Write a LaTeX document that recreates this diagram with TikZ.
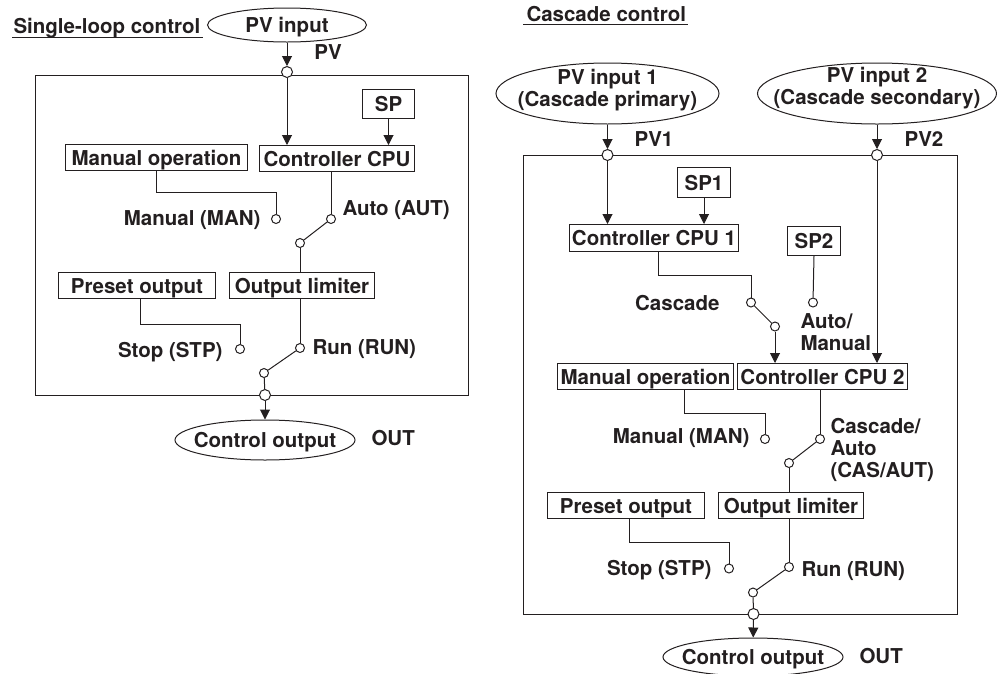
\documentclass[tikz,border=0pt]{standalone}
\usepackage{fontspec}
\usepackage{xcolor}
\usepackage{tikz}
\usetikzlibrary{arrows.meta,shapes.geometric}
\setmainfont{TeX Gyre Heros}
\definecolor{ink}{HTML}{231F20}
\tikzset{
  lbl/.style={inner sep=0pt, text height=15pt, text depth=0pt},
  lblmulti/.style={inner sep=0pt, align=left},
  framebox/.style={draw, inner sep=0pt, text height=15pt, text depth=0pt, anchor=north west},
  oval/.style={draw, ellipse, inner sep=0pt},
  term/.style={draw, circle, fill=white, inner sep=0pt, minimum size=9pt},
  joint/.style={draw, circle, fill=white, inner sep=0pt, minimum size=11pt}
}

\begin{document}
\begin{tikzpicture}[x=1pt, y=-1pt, color=ink, line width=1pt,
    font=\fontsize{20.5}{22}\selectfont\bfseries, >={Triangle[length=10pt,width=10pt]}]
          \useasboundingbox (0,0) rectangle (997,673);

          \node[lbl, anchor=west] (singletitle) at (13,26) {Single-loop control};
          \coordinate (singleulA) at (12,37);
          \coordinate (singleulB) at (203,37);
          \draw (singleulA) -- (singleulB);
          \draw (35,75) rectangle (468,395);

          \node[oval, minimum width=159pt, minimum height=34pt] (pvin) at (287,25) {};
          \node[lbl] (pvintext) at (287,25) {PV input};
          \node[lbl] (pvlabel) at (328,52) {PV};
          \node[joint] (pvjoin) at (287,72) {};
          \node[framebox, minimum width=52pt, minimum height=29pt] (sp) at (362,89) {SP};
          \node[framebox, minimum width=182pt, minimum height=26pt] (manop) at (65,144) {Manual operation};
          \node[framebox, minimum width=155pt, minimum height=26pt] (cpu) at (259,145) {Controller CPU};
          \node[lbl, anchor=east] (manlabel) at (261,218) {Manual (MAN)};
          \node[term] (mansw) at (276,219) {};
          \node[term] (autosw) at (331,219) {};
          \node[lbl, anchor=west] (autolabel) at (342,208) {Auto (AUT)};
          \node[term] (autocom) at (300,243) {};
          \node[framebox, minimum width=157pt, minimum height=26pt] (preset) at (58,272) {Preset output};
          \node[framebox, minimum width=145pt, minimum height=26pt] (limiter) at (229,272) {Output limiter};
          \node[lbl, anchor=east] (stoplabel) at (223,350) {Stop (STP)};
          \node[term] (stopsw) at (240,349) {};
          \node[term] (runsw) at (300,348) {};
          \node[lbl, anchor=west] (runlabel) at (312,347) {Run (RUN)};
          \node[term] (runcom) at (264,373) {};
          \node[joint] (outjoin) at (265,395) {};
          \node[oval, minimum width=180pt, minimum height=40pt] (ctrlout) at (265,440) {};
          \node[lbl] (ctrlouttext) at (265,440) {Control output};
          \node[lbl, anchor=west] (outlabel) at (371,438) {OUT};

          \draw[->] (pvin) -- (pvjoin);
          \draw[->] (pvjoin) -- (pvjoin |- cpu.north);
          \draw[->] (sp.south) -- (sp.south |- cpu.north);
          \draw (manop.south) -- ++(0,21) -| (mansw);
          \draw (cpu.south -| autosw) -- (autosw);
          \draw (autosw) -- (autocom);
          \draw (autocom) -- (autocom |- limiter.north);
          \draw ([xshift=3.5pt]preset.south) -- ++(0,25) -| (stopsw);
          \draw (limiter.south -| runsw) -- (runsw);
          \draw (runsw) -- (runcom);
          \draw (runcom) -- (outjoin);
          \draw[->] (outjoin) -- (ctrlout);

          \node[lbl, anchor=west] (cascadetitle) at (526,14) {Cascade control};
          \coordinate (cascadeulA) at (523,24);
          \coordinate (cascadeulB) at (688,24);
          \draw (cascadeulA) -- (cascadeulB);
          \draw (523,155) rectangle (957,614);

          \node[oval, minimum width=223pt, minimum height=61pt] (pvone) at (607.5,93.5) {};
          \node[lblmulti, align=center] (pvonetext) at (607.5,90) {PV input 1\\(Cascade primary)};
          \node[oval, minimum width=239pt, minimum height=61pt] (pvtwo) at (877,93.5) {};
          \node[lblmulti, align=center] (pvtwotext) at (877,88) {PV input 2\\(Cascade secondary)};
          \node[lbl] (pvonelabel) at (654,139) {PV1};
          \node[lbl] (pvtwolabel) at (924,139) {PV2};
          \node[joint] (pvonejoin) at (607.5,155) {};
          \node[joint] (pvtwojoin) at (877,155) {};
          \node[framebox, minimum width=53pt, minimum height=30pt] (spone) at (677,167) {SP1};
          \node[framebox, minimum width=169pt, minimum height=27pt] (cpuone) at (569,224) {Controller CPU 1};
          \node[framebox, minimum width=53pt, minimum height=29pt] (sptwo) at (787,226) {SP2};
          \node[lbl, anchor=east] (caslabel) at (720,303) {Cascade};
          \node[term] (cassw) at (751,302.5) {};
          \node[term] (casauto) at (813,302.5) {};
          \node[term] (cascom) at (775,326.5) {};
          \node[lblmulti, anchor=west] (automanlabel) at (800,332) {Auto/\\Manual};
          \node[framebox, minimum width=176pt, minimum height=26pt] (manoptwo) at (557,363) {Manual operation};
          \node[framebox, minimum width=170pt, minimum height=26pt] (cputwo) at (737,363) {Controller CPU 2};
          \node[lbl, anchor=east] (mantwolabel) at (750,436) {Manual (MAN)};
          \node[term] (mantwosw) at (765,439) {};
          \node[term] (cassec) at (820,439) {};
          \node[lblmulti, anchor=west] (casautolabel) at (830,450) {Cascade/\\Auto\\(CAS/AUT)};
          \node[term] (casseccom) at (789,463) {};
          \node[framebox, minimum width=157pt, minimum height=26pt] (presettwo) at (547,492) {Preset output};
          \node[framebox, minimum width=145pt, minimum height=26pt] (limitertwo) at (718,492) {Output limiter};
          \node[lbl, anchor=east] (stoptwolabel) at (712,568) {Stop (STP)};
          \node[term] (stoptwosw) at (729,568.5) {};
          \node[term] (runtwosw) at (789,567) {};
          \node[lbl, anchor=west] (runtwolabel) at (801,569) {Run (RUN)};
          \node[term] (runtwocom) at (753,592.5) {};
          \node[joint] (outtwojoin) at (753.5,614) {};
          \node[oval, minimum width=180pt, minimum height=38pt] (ctrlouttwo) at (753,657) {};
          \node[lbl] (ctrlouttwotext) at (753,657) {Control output};
          \node[lbl, anchor=west] (outtwolabel) at (859,656) {OUT};

          \draw[->] (pvone) -- (pvonejoin);
          \draw[->] (pvtwo) -- (pvtwojoin);
          \draw[->] (pvonejoin) -- (pvonejoin |- cpuone.north);
          \draw[->] (spone.south) -- (spone.south |- cpuone.north);
          \draw[->] (pvtwojoin) -- (pvtwojoin |- cputwo.north);
          \draw ([xshift=4.5pt]cpuone.south) -- ++(0,23) -| (cassw);
          \draw (sptwo.south) -- (casauto);
          \draw (cassw) -- (cascom);
          \draw[->] (cascom) -- (cascom |- cputwo.north);
          \draw ([xshift=39pt]manoptwo.south) -- ++(0,23) -| (mantwosw);
          \draw (cputwo.south -| cassec) -- (cassec);
          \draw (cassec) -- (casseccom);
          \draw (casseccom) -- (casseccom |- limitertwo.north);
          \draw ([xshift=3.5pt]presettwo.south) -- ++(0,23) -| (stoptwosw);
          \draw (limitertwo.south -| runtwosw) -- (runtwosw);
          \draw (runtwosw) -- (runtwocom);
          \draw (runtwocom) -- (outtwojoin);
          \draw[->] (outtwojoin) -- (ctrlouttwo);
        \end{tikzpicture}
\end{document}
